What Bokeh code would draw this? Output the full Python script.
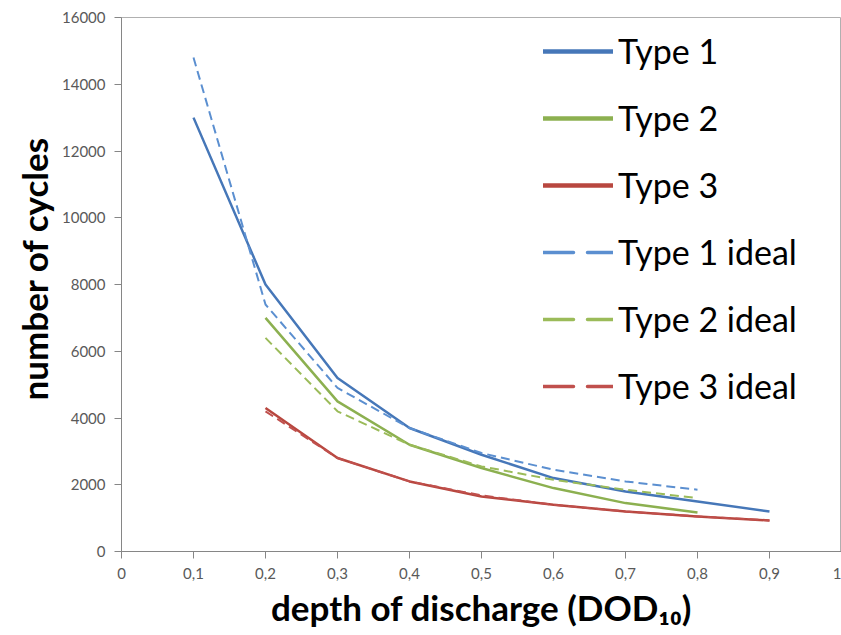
from bokeh.embed import file_html
from bokeh.models import (ColumnDataSource, FixedTicker, Legend, LegendItem,
                          Range1d, Title)
from bokeh.plotting import figure
from bokeh.resources import INLINE

# Depth of discharge values (fraction) and cycle counts per battery type
dod_full = [0.1, 0.2, 0.3, 0.4, 0.5, 0.6, 0.7, 0.8, 0.9]
dod_from_02 = [0.2, 0.3, 0.4, 0.5, 0.6, 0.7, 0.8, 0.9]
dod_ideal_1 = [0.1, 0.2, 0.3, 0.4, 0.5, 0.6, 0.7, 0.8]
dod_ideal_2 = [0.2, 0.3, 0.4, 0.5, 0.6, 0.7, 0.8]

type1 = [13000, 8000, 5200, 3700, 2900, 2200, 1800, 1500, 1200]
type2 = [7000, 4500, 3200, 2500, 1900, 1450, 1170]
type3 = [4300, 2800, 2100, 1650, 1400, 1200, 1050, 930]
type1_ideal = [14800, 7400, 4900, 3700, 2950, 2450, 2100, 1850]
type2_ideal = [6400, 4200, 3200, 2550, 2150, 1850, 1600]
type3_ideal = [4200, 2800, 2100, 1680, 1400, 1200, 1050, 930]

series_names = ["Type 1", "Type 2", "Type 3",
                "Type 1 ideal", "Type 2 ideal", "Type 3 ideal"]

x_ticks = [0, 0.1, 0.2, 0.3, 0.4, 0.5, 0.6, 0.7, 0.8, 0.9, 1.0]
x_tick_labels = ["0", "0,1", "0,2", "0,3", "0,4", "0,5",
                 "0,6", "0,7", "0,8", "0,9", "1"]
y_ticks = [0, 2000, 4000, 6000, 8000, 10000, 12000, 14000, 16000]

x_title = "depth of discharge (DOD\u2081\u2080)"
y_title = "number of cycles"

FONT = "Lato"
AXIS_GREY = "#868686"

p = figure(width=841, height=635, output_backend="svg", toolbar_location=None,
           x_range=Range1d(0, 1), y_range=Range1d(0, 16000),
           min_border_left=121, min_border_right=0,
           min_border_top=17, min_border_bottom=84)

# a range far above the data: renderers on it stay outside the frame and
# only serve as thicker legend swatches
p.extra_y_ranges = {"swatch": Range1d(1e9, 2e9)}

p.xgrid.visible = False
p.ygrid.visible = False
p.outline_line_color = "#b0b0b0"
p.outline_line_width = 1
p.background_fill_color = "white"
p.border_fill_color = "white"

for ax in (p.xaxis[0], p.yaxis[0]):
    ax.axis_line_color = AXIS_GREY
    ax.major_tick_line_color = AXIS_GREY
    ax.major_tick_out = 7
    ax.major_tick_in = 0
    ax.minor_tick_line_color = None
    ax.major_label_text_font = FONT
    ax.major_label_text_font_size = "15px"
    ax.major_label_text_color = "#595959"
    ax.major_label_standoff = 9

p.xaxis.ticker = FixedTicker(ticks=x_ticks)
p.xaxis.major_label_overrides = {t: lab for t, lab in zip(x_ticks, x_tick_labels)}
p.yaxis.ticker = FixedTicker(ticks=y_ticks)
p.yaxis.major_label_overrides = {t: str(t) for t in y_ticks}

# series: (x, y, colour, dash, data width, legend dash)
series = [
    (dod_full, type1, "#4677b8", "solid", 2.5, "solid"),
    (dod_ideal_2, type2, "#8cb050", "solid", 2.5, "solid"),
    (dod_from_02, type3, "#b8473f", "solid", 2.5, "solid"),
    (dod_ideal_1, type1_ideal, "#5b8fd0", "9 5", 2.0, "30 14"),
    (dod_ideal_2, type2_ideal, "#9bbb59", "9 5", 2.0, "30 14"),
    (dod_from_02, type3_ideal, "#c0504d", "9 5", 2.0, "30 14"),
]

items = []
for name, (xs, ys, color, dash, lw, ldash) in zip(series_names, series):
    src = ColumnDataSource(data=dict(x=xs, y=ys))
    p.line("x", "y", source=src, line_color=color, line_width=lw,
           line_dash=dash, line_join="round")
    swatch = p.line("x", "y", source=src, y_range_name="swatch",
                    line_color=color,
                    line_width=4.5 if ldash == "solid" else 3.5,
                    line_dash=ldash, line_cap="round")
    items.append(LegendItem(label=name, renderers=[swatch]))

legend = Legend(items=items, location=(422, 145),
                glyph_width=70, glyph_height=40, label_height=40,
                label_standoff=5, spacing=26, padding=0, margin=0,
                border_line_color=None, background_fill_alpha=0,
                label_text_font=FONT, label_text_font_size="34px",
                label_text_color="black", label_text_baseline="middle")
p.add_layout(legend)

# axis titles
p.add_layout(Title(text=x_title, align="center", standoff=4,
                   text_font=FONT, text_font_style="bold",
                   text_font_size="35px", text_color="black"), "below")
p.add_layout(Title(text=y_title, align="left", offset=151,
                   text_font=FONT, text_font_style="bold",
                   text_font_size="35px", text_color="black"), "left")

open("out.html", "w").write(file_html(p, INLINE))
